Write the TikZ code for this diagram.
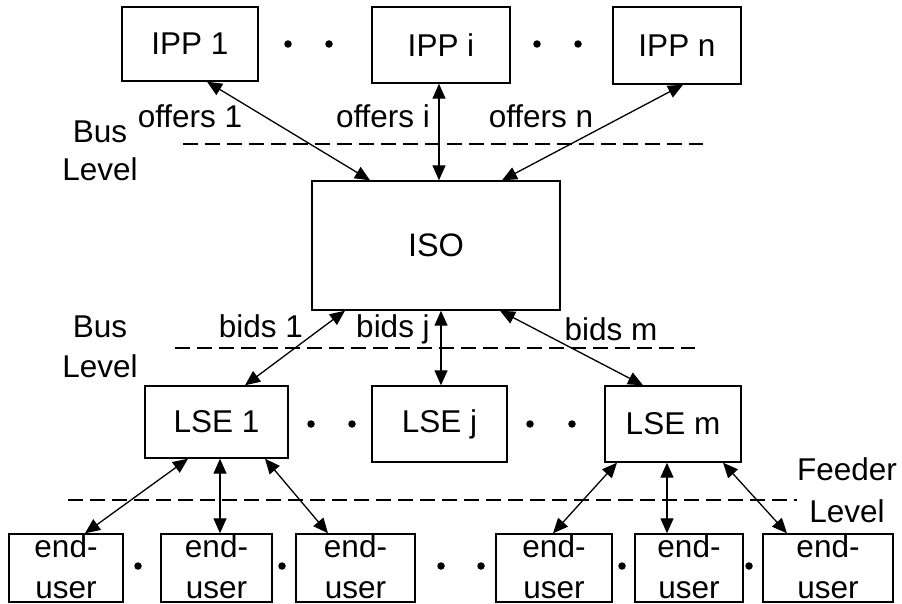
\documentclass[tikz,border=0pt]{standalone}
\usepackage{fontspec}
\setmainfont{Liberation Sans}
\usetikzlibrary{arrows.meta}
\begin{document}
\begin{tikzpicture}[x=1pt,y=-1pt,
  box/.style={draw,line width=1.4pt,inner sep=0pt,font=\fontsize{31.5}{36}\selectfont},
  eubox/.style={draw,line width=1.4pt,inner sep=0pt,minimum height=68pt,align=center,text depth=2pt,font=\fontsize{31.5}{41}\selectfont},
  lbl/.style={inner sep=0pt,anchor=base,font=\fontsize{31.5}{36}\selectfont},
  lvl/.style={inner sep=0pt,anchor=north,align=center},
  dbl/.style={line width=1.3pt,{Triangle[length=15pt,width=13pt]}-{Triangle[length=15pt,width=13pt]}},
  sep/.style={line width=1.3pt,dash pattern=on 15pt off 7pt},
  dotc/.style={fill=black,circle,inner sep=0pt,minimum size=7.5pt}]
\useasboundingbox (0,0) rectangle (902,604);
% top row
\node[box,minimum width=136pt,minimum height=74pt] (ipp1) at (190,44) {IPP 1};
\node[box,minimum width=138pt,minimum height=76pt] (ippi) at (441,45) {IPP i};
\node[box,minimum width=128pt,minimum height=77pt] (ippn) at (677,45.5) {IPP n};
\node[dotc] (d1) at (288,44) {};
\node[dotc] (d2) at (329,44) {};
\node[dotc] (d3) at (537,44) {};
\node[dotc] (d4) at (578,44) {};
% ISO
\node[box,minimum width=248pt,minimum height=129pt,font=\fontsize{32.5}{36}\selectfont] (iso) at (436,245.5) {ISO};
% LSE row
\node[box,minimum width=143pt,minimum height=72pt] (lse1) at (216.5,422) {LSE 1};
\node[box,minimum width=135pt,minimum height=76pt] (lsej) at (439.5,424) {LSE j};
\node[box,minimum width=136pt,minimum height=76pt] (lsem) at (673,424) {LSE m};
\node[dotc] (d5) at (311,424) {};
\node[dotc] (d6) at (352,424) {};
\node[dotc] (d7) at (530,424) {};
\node[dotc] (d8) at (572,424) {};
% end users
\node[eubox,minimum width=114pt] (eu1) at (66,568) {end-\\user};
\node[eubox,minimum width=111pt] (eu2) at (216.5,568) {end-\\user};
\node[eubox,minimum width=119pt] (eu3) at (355.5,568) {end-\\user};
\node[eubox,minimum width=116pt] (eu4) at (554,568) {end-\\user};
\node[eubox,minimum width=108pt] (eu5) at (689,568) {end-\\user};
\node[eubox,minimum width=130pt] (eu6) at (828,568) {end-\\user};
\node[dotc] (d9) at (138,566) {};
\node[dotc] (d10) at (282,566) {};
\node[dotc] (d11) at (441,566) {};
\node[dotc] (d12) at (481,566) {};
\node[dotc] (d13) at (622,566) {};
\node[dotc] (d14) at (749,566) {};
% dashed level lines
\draw[sep] (183,144) -- (703,144);
\draw[sep] (175,348) -- (695,348);
\draw[sep] (68,500) -- (797,500);
% level labels
\node[lvl,font=\fontsize{31.5}{38}\selectfont] (bus1) at (100,120.3) {Bus\\Level};
\node[lvl,font=\fontsize{31.5}{40}\selectfont] (bus2) at (100,315.3) {Bus\\Level};
\node[lvl,font=\fontsize{31.5}{42}\selectfont] (feeder) at (847,457.2) {Feeder\\Level};
% connector labels
\node[lbl] (o1) at (190,128) {offers 1};
\node[lbl] (oi) at (383,128) {offers i};
\node[lbl] (on) at (541,128) {offers n};
\node[lbl] (b1) at (261,337) {bids 1};
\node[lbl] (bj) at (393,337) {bids j};
\node[lbl] (bm) at (611,340) {bids m};
% connectors
\draw[dbl] ([xshift=17pt]ipp1.south) -- ([xshift=-66pt]iso.north);
\draw[dbl] ([xshift=-2pt]ippi.south) -- ([xshift=3pt]iso.north);
\draw[dbl] ([xshift=6pt]ippn.south) -- ([xshift=66pt]iso.north);
\draw[dbl] ([xshift=-91pt]iso.south) -- ([xshift=28.5pt]lse1.north);
\draw[dbl] ([xshift=5pt]iso.south) -- ([xshift=1.5pt]lsej.north);
\draw[dbl] ([xshift=64pt]iso.south) -- ([xshift=-30pt]lsem.north);
\draw[dbl] ([xshift=-28.5pt]lse1.south) -- ([xshift=19pt]eu1.north);
\draw[dbl] ([xshift=3.5pt]lse1.south) -- ([xshift=3.5pt]eu2.north);
\draw[dbl] ([xshift=48.5pt]lse1.south) -- ([xshift=-27.5pt]eu3.north);
\draw[dbl] ([xshift=-56pt]lsem.south) -- ([xshift=-1pt]eu4.north);
\draw[dbl] ([xshift=-6pt]lsem.south) -- ([xshift=-22pt]eu5.north);
\draw[dbl] ([xshift=50pt]lsem.south) -- ([xshift=-41pt]eu6.north);
\end{tikzpicture}
\end{document}
